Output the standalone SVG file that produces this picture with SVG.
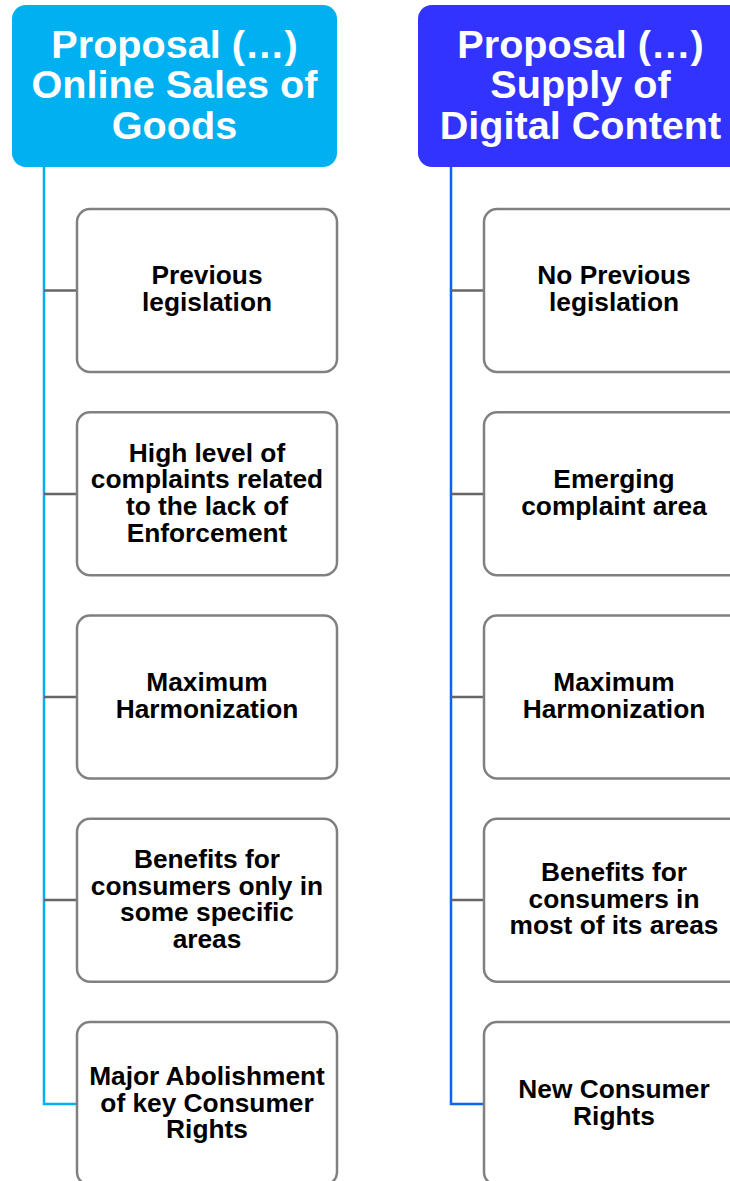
<svg xmlns="http://www.w3.org/2000/svg" width="730" height="1181" viewBox="0 0 730 1181">
<style>
.hdr{font-family:"Liberation Sans",Arial,sans-serif;font-weight:bold;font-size:39.6px;fill:#ffffff;text-anchor:middle}
.box{fill:#ffffff;stroke:#808080;stroke-width:2.5}
.lbl{font-family:"Liberation Sans",Arial,sans-serif;font-weight:bold;font-size:26.3px;fill:#000000;text-anchor:middle}
.gray{stroke:#666666;stroke-width:2.5;fill:none}
</style>
<rect width="730" height="1181" fill="#ffffff"/>
<g id="connectors">
<polyline points="44,167 44,1104 77,1104" fill="none" stroke="#00B0F0" stroke-width="2.5"/>
<line class="gray" x1="44" y1="290.5" x2="77" y2="290.5"/>
<line class="gray" x1="44" y1="494" x2="77" y2="494"/>
<line class="gray" x1="44" y1="697" x2="77" y2="697"/>
<line class="gray" x1="44" y1="900" x2="77" y2="900"/>
<polyline points="451,167 451,1104 484,1104" fill="none" stroke="#0A64F0" stroke-width="2.5"/>
<line class="gray" x1="451" y1="290.5" x2="484" y2="290.5"/>
<line class="gray" x1="451" y1="494" x2="484" y2="494"/>
<line class="gray" x1="451" y1="697" x2="484" y2="697"/>
<line class="gray" x1="451" y1="900" x2="484" y2="900"/>
</g>
<g id="header-left">
<rect x="12" y="5" width="325" height="162" rx="14" fill="#00B0F0"/>
<text class="hdr" x="174.5" y="57.5">Proposal (…)</text>
<text class="hdr" x="174.5" y="98">Online Sales of</text>
<text class="hdr" x="174.5" y="138.5">Goods</text>
</g>
<g id="header-right">
<rect x="418" y="5" width="325" height="162" rx="14" fill="#3333FF"/>
<text class="hdr" x="580.5" y="57.5">Proposal (…)</text>
<text class="hdr" x="580.5" y="98">Supply of</text>
<text class="hdr" x="580.5" y="138.5">Digital Content</text>
</g>
<g id="l1">
<rect class="box" x="77" y="209" width="260" height="163" rx="13"/>
<text class="lbl" x="207" y="284">Previous</text>
<text class="lbl" x="207" y="310.7">legislation</text>
</g>
<g id="l2">
<rect class="box" x="77" y="412.25" width="260" height="163" rx="13"/>
<text class="lbl" x="207" y="461.7">High level of</text>
<text class="lbl" x="207" y="488.4">complaints related</text>
<text class="lbl" x="207" y="515.1">to the lack of</text>
<text class="lbl" x="207" y="541.8">Enforcement</text>
</g>
<g id="l3">
<rect class="box" x="77" y="615.5" width="260" height="163" rx="13"/>
<text class="lbl" x="207" y="691">Maximum</text>
<text class="lbl" x="207" y="717.7">Harmonization</text>
</g>
<g id="l4">
<rect class="box" x="77" y="818.75" width="260" height="163" rx="13"/>
<text class="lbl" x="207" y="868">Benefits for</text>
<text class="lbl" x="207" y="894.7">consumers only in</text>
<text class="lbl" x="207" y="921.4">some specific</text>
<text class="lbl" x="207" y="948.1">areas</text>
</g>
<g id="l5">
<rect class="box" x="77" y="1022" width="260" height="163" rx="13"/>
<text class="lbl" x="207" y="1085">Major Abolishment</text>
<text class="lbl" x="207" y="1111.7">of key Consumer</text>
<text class="lbl" x="207" y="1138.4">Rights</text>
</g>
<g id="r1">
<rect class="box" x="484" y="209" width="260" height="163" rx="13"/>
<text class="lbl" x="614" y="284">No Previous</text>
<text class="lbl" x="614" y="310.7">legislation</text>
</g>
<g id="r2">
<rect class="box" x="484" y="412.25" width="260" height="163" rx="13"/>
<text class="lbl" x="614" y="488">Emerging</text>
<text class="lbl" x="614" y="514.7">complaint area</text>
</g>
<g id="r3">
<rect class="box" x="484" y="615.5" width="260" height="163" rx="13"/>
<text class="lbl" x="614" y="691">Maximum</text>
<text class="lbl" x="614" y="717.7">Harmonization</text>
</g>
<g id="r4">
<rect class="box" x="484" y="818.75" width="260" height="163" rx="13"/>
<text class="lbl" x="614" y="881">Benefits for</text>
<text class="lbl" x="614" y="907.7">consumers in</text>
<text class="lbl" x="614" y="934.4">most of its areas</text>
</g>
<g id="r5">
<rect class="box" x="484" y="1022" width="260" height="163" rx="13"/>
<text class="lbl" x="614" y="1098">New Consumer</text>
<text class="lbl" x="614" y="1124.7">Rights</text>
</g>
</svg>
